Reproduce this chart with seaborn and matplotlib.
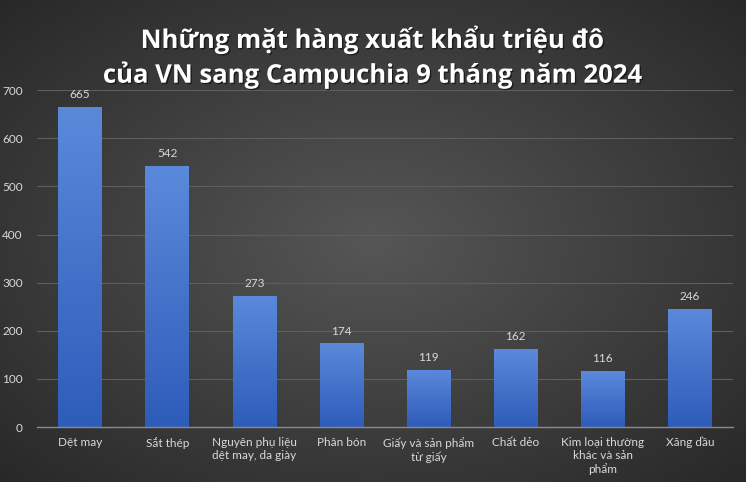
import numpy as np
import pandas as pd
import matplotlib
matplotlib.use("Agg")
import matplotlib.pyplot as plt
import matplotlib.patheffects as pe
import seaborn as sns

categories = ["Dệt may", "Sắt thép", "Nguyên phụ liệu\ndệt may, da giày", "Phân bón",
              "Giấy và sản phẩm\ntừ giấy", "Chất dẻo", "Kim loại thường\nkhác và sản\nphẩm", "Xăng dầu"]
values = [665, 542, 273, 174, 119, 162, 116, 246]
yticks = [0, 100, 200, 300, 400, 500, 600, 700]
title = "Những mặt hàng xuất khẩu triệu đô\ncủa VN sang Campuchia 9 tháng năm 2024"

sns.set_theme(style="white")
plt.rcParams['font.family'] = ['Liberation Sans Narrow', 'Lato', 'DejaVu Sans']

fig = plt.figure(figsize=(7.46, 4.82), dpi=100)

# radial gradient background
bg = fig.add_axes([0, 0, 1, 1], zorder=-10)
yy, xx = np.mgrid[-1:1:482j, -1:1:746j]
r = np.sqrt(xx**2 + yy**2) / np.sqrt(2)
c1 = np.array([0x56, 0x56, 0x56]) / 255
c0 = np.array([0x28, 0x28, 0x28]) / 255
t = np.clip(r, 0, 1)[..., None]
img = c1 * (1 - t) + c0 * t
bg.imshow(img, aspect='auto', extent=[0, 1, 0, 1])
bg.axis('off')

ax = fig.add_axes([0.049, 0.114, 0.934, 0.699])
ax.patch.set_alpha(0)
df = pd.DataFrame({"cat": categories, "val": values})
sns.barplot(data=df, x="cat", y="val", ax=ax, color="#4472c4", width=0.5, saturation=1)

# gradient fill on bars
grad = np.linspace(0, 1, 256)[:, None]
top = np.array([0x5b, 0x89, 0xda]) / 255
bot = np.array([0x2e, 0x5c, 0xba]) / 255
gimg = (top * (1 - grad[..., None]) + bot * grad[..., None])
for p in ax.patches:
    x0, y0 = p.get_x(), p.get_y()
    w, h = p.get_width(), p.get_height()
    im = ax.imshow(gimg, extent=[x0, x0 + w, y0, y0 + h], aspect='auto', zorder=2)
    im.set_clip_path(p)
    p.set_alpha(0)

for i, v in enumerate(values):
    ax.text(i, v + 14, str(v), ha='center', va='bottom', color='#d9d9d9', fontsize=8.5)

ax.set_ylim(0, 700)
ax.set_xlim(-0.5, len(categories) - 0.5)
ax.set_yticks(yticks)
ax.set_yticklabels([str(v) for v in yticks], color='#d9d9d9', fontsize=8.5)
ax.tick_params(axis='x', colors='#d9d9d9', labelsize=8.5, length=0, pad=7)
ax.tick_params(axis='y', length=0, pad=10)
for lab in ax.get_xticklabels():
    lab.set_linespacing(1.25)
ax.set_xlabel("")
ax.set_ylabel("")
ax.grid(axis='y', color='#5e5e5e', linewidth=0.8)
ax.set_axisbelow(True)
for s in ['top', 'right', 'left']:
    ax.spines[s].set_visible(False)
ax.spines['bottom'].set_color('#8a8a8a')
ax.spines['bottom'].set_linewidth(1)

fig.text(0.5, 0.95, title, ha='center', va='top', color='white', fontsize=18.5,
         fontweight='bold', linespacing=1.25, family=['Open Sans', 'DejaVu Sans'],
         path_effects=[pe.withSimplePatchShadow(offset=(1, -1), shadow_rgbFace='black', alpha=0.5)])

fig.savefig("out.png", dpi=100)
